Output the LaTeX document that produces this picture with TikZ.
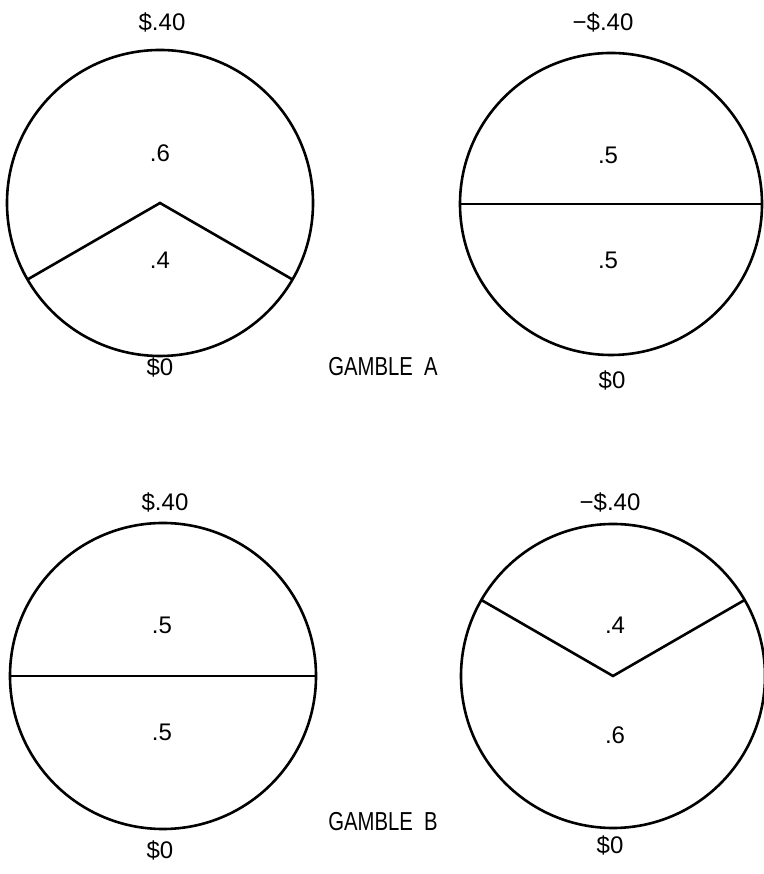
\documentclass[tikz,border=0pt]{standalone}
\usepackage{fontspec}
\setmainfont{Liberation Sans}
\newfontfamily\gamblefont[FakeStretch=0.78]{Liberation Sans}

\begin{document}
\begin{tikzpicture}[x=1pt, y=1pt,
  disc/.style={line width=2.6pt},
  val/.style={font=\fontsize{24}{28}\selectfont, inner sep=0pt},
  title/.style={font=\gamblefont\fontsize{26}{30}\selectfont, inner sep=0pt}]
  \useasboundingbox (0,0) rectangle (763,874);
  %--- centres of the four discs ---
  \coordinate (cA1) at (160,671);
  \coordinate (cA2) at (611,670);
  \coordinate (cB1) at (163,198);
  \coordinate (cB2) at (613,198);
  %--- gamble A, left disc: .6 / .4 ---
  \draw[disc] (cA1) circle[radius=153];
  \draw[disc] (cA1) ++(210:153) -- (cA1) -- ++(330:153);
  %--- gamble A, right disc: .5 / .5 ---
  \draw[disc] (cA2) circle[radius=151];
  \draw[disc] (cA2) ++(180:151) -- ++(302,0);
  %--- gamble B, left disc: .5 / .5 ---
  \draw[disc] (cB1) circle[radius=153];
  \draw[disc] (cB1) ++(180:153) -- ++(306,0);
  %--- gamble B, right disc: .4 / .6 ---
  \draw[disc] (cB2) circle[radius=152];
  \draw[disc] (cB2) ++(150:152) -- (cB2) -- ++(30:152);
  %--- outcomes and probabilities ---
  \foreach \nm/\x/\y/\txt in {winA1/162/852/{\$.40}, hiA1/160/721/{.6},
                              loA1/160/614/{.4}, zeroA1/160/507/{\$0},
                              lossA2/603/852/{−\$.40}, hiA2/608/719/{.5},
                              loA2/608/614/{.5}, zeroA2/612/494/{\$0},
                              winB1/165/372/{\$.40}, hiB1/162/249/{.5},
                              loB1/162/142/{.5}, zeroB1/160/24/{\$0},
                              lossB2/610/372/{−\$.40}, hiB2/615/249/{.4},
                              loB2/615/139/{.6}, zeroB2/610/29/{\$0}} {
    \node[val] (\nm) at (\x,\y) {\txt};
  }
  %--- titles ---
  \node[title] (gambleA) at (383,507) {GAMBLE\ \ A};
  \node[title] (gambleB) at (383,52) {GAMBLE\ \ B};
\end{tikzpicture}
\end{document}
